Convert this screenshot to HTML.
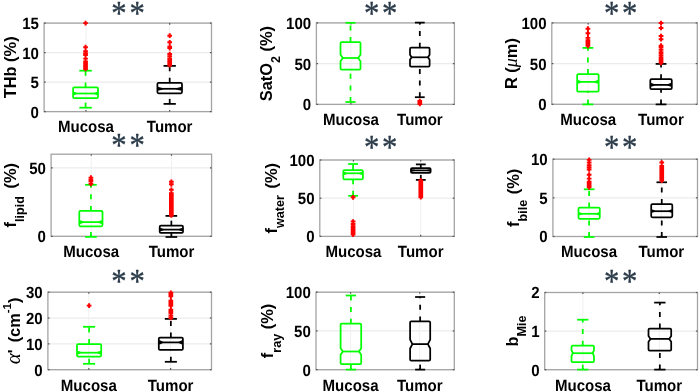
<!DOCTYPE html>
<html><head><meta charset="utf-8"><style>
html,body{margin:0;padding:0;background:#fff;}
svg{display:block;}
.t{font-family:"Liberation Sans",Arial,sans-serif;font-weight:bold;font-size:15.2px;fill:#000;text-rendering:geometricPrecision;}
.s{font-family:"Liberation Serif",serif;font-weight:normal;font-size:34.5px;fill:#2a3a48;stroke:#2a3a48;stroke-width:0.35px;letter-spacing:3.09px;}
</style></head><body>
<svg width="700" height="392" viewBox="0 0 700 392">
<rect width="700" height="392" fill="#fff"/>
<g>
<line x1="44.1" y1="111.6" x2="211.5" y2="111.6" stroke="#ebebeb" stroke-width="1.2"/>
<line x1="44.1" y1="82.1" x2="211.5" y2="82.1" stroke="#ebebeb" stroke-width="1.2"/>
<line x1="44.1" y1="52.6" x2="211.5" y2="52.6" stroke="#ebebeb" stroke-width="1.2"/>
<line x1="44.1" y1="23.1" x2="211.5" y2="23.1" stroke="#ebebeb" stroke-width="1.2"/>
<line x1="85.95" y1="23.1" x2="85.95" y2="111.6" stroke="#f0f0f0" stroke-width="1"/>
<line x1="169.65" y1="23.1" x2="169.65" y2="111.6" stroke="#f0f0f0" stroke-width="1"/>
<rect x="44.1" y="23.1" width="167.4" height="88.5" fill="none" stroke="#a4a4a4" stroke-width="1.3"/>
<line x1="44.1" y1="111.6" x2="45.7" y2="111.6" stroke="#555" stroke-width="1.2"/>
<line x1="211.5" y1="111.6" x2="209.9" y2="111.6" stroke="#555" stroke-width="1.2"/>
<line x1="44.1" y1="82.1" x2="45.7" y2="82.1" stroke="#555" stroke-width="1.2"/>
<line x1="211.5" y1="82.1" x2="209.9" y2="82.1" stroke="#555" stroke-width="1.2"/>
<line x1="44.1" y1="52.6" x2="45.7" y2="52.6" stroke="#555" stroke-width="1.2"/>
<line x1="211.5" y1="52.6" x2="209.9" y2="52.6" stroke="#555" stroke-width="1.2"/>
<line x1="44.1" y1="23.1" x2="45.7" y2="23.1" stroke="#555" stroke-width="1.2"/>
<line x1="211.5" y1="23.1" x2="209.9" y2="23.1" stroke="#555" stroke-width="1.2"/>
<line x1="85.95" y1="111.6" x2="85.95" y2="110" stroke="#555" stroke-width="1.2"/>
<line x1="85.95" y1="23.1" x2="85.95" y2="24.7" stroke="#555" stroke-width="1.2"/>
<line x1="169.65" y1="111.6" x2="169.65" y2="110" stroke="#555" stroke-width="1.2"/>
<line x1="169.65" y1="23.1" x2="169.65" y2="24.7" stroke="#555" stroke-width="1.2"/>
<line x1="85.55" y1="87.4" x2="85.55" y2="70.7" stroke="#00ff00" stroke-width="1.75" stroke-dasharray="5 6.6"/>
<line x1="85.55" y1="107.7" x2="85.55" y2="98.2" stroke="#00ff00" stroke-width="1.75" stroke-dasharray="5 6.6"/>
<line x1="79.33" y1="70.7" x2="91.77" y2="70.7" stroke="#00ff00" stroke-width="1.75"/>
<line x1="79.33" y1="107.7" x2="91.77" y2="107.7" stroke="#00ff00" stroke-width="1.75"/>
<path d="M74.3,87.4 L96.8,87.4 Q98,87.4 98,88.6 L98,97 Q98,98.2 96.8,98.2 L74.3,98.2 Q73.1,98.2 73.1,97 L73.1,88.6 Q73.1,87.4 74.3,87.4 Z M73.1,92.3 L76.6,93.5 L73.1,94.7 M98,92.3 L94.5,93.5 L98,94.7" fill="none" stroke="#00ff00" stroke-width="1.75" stroke-linejoin="round"/>
<line x1="76.6" y1="93.5" x2="94.5" y2="93.5" stroke="#00ff00" stroke-width="1.75"/>
<line x1="169.7" y1="82.85" x2="169.7" y2="65.9" stroke="#000000" stroke-width="1.75" stroke-dasharray="5 6.6"/>
<line x1="169.7" y1="103.9" x2="169.7" y2="93.3" stroke="#000000" stroke-width="1.75" stroke-dasharray="5 6.6"/>
<line x1="163.55" y1="65.9" x2="175.85" y2="65.9" stroke="#000000" stroke-width="1.75"/>
<line x1="163.55" y1="103.9" x2="175.85" y2="103.9" stroke="#000000" stroke-width="1.75"/>
<path d="M158.6,82.85 L180.8,82.85 Q182,82.85 182,84.05 L182,92.1 Q182,93.3 180.8,93.3 L158.6,93.3 Q157.4,93.3 157.4,92.1 L157.4,84.05 Q157.4,82.85 158.6,82.85 Z M157.4,87.7 L162.4,88.8 L157.4,89.9 M182,87.7 L177,88.8 L182,89.9" fill="none" stroke="#000000" stroke-width="1.75" stroke-linejoin="round"/>
<line x1="162.4" y1="88.8" x2="177" y2="88.8" stroke="#000000" stroke-width="1.75"/>
<path d="M85.55,20.75v4.7M85.55,44.85v4.7M85.55,48.75v4.7M85.55,50.95v4.7M85.55,52.75v4.7M85.55,56.25v4.7M85.55,59.15v4.7M85.55,60.95v4.7M85.55,62.65v4.7M85.55,63.65v4.7M85.55,64.65v4.7M85.55,65.65v4.7M85.55,66.65v4.7" stroke="#ff0000" stroke-width="2.0" fill="none"/><path d="M83.2,23.1h4.7M83.2,47.2h4.7M83.2,51.1h4.7M83.2,53.3h4.7M83.2,55.1h4.7M83.2,58.6h4.7M83.2,61.5h4.7M83.2,63.3h4.7M83.2,65h4.7M83.2,66h4.7M83.2,67h4.7M83.2,68h4.7M83.2,69h4.7" stroke="#ff0000" stroke-width="1.9" fill="none"/>
<path d="M169.7,33.35v4.7M169.7,39.95v4.7M169.7,44.35v4.7M169.7,45.75v4.7M169.7,51.65v4.7M169.7,53.95v4.7M169.7,56.25v4.7M169.7,58.05v4.7M169.7,59.95v4.7M169.7,61.35v4.7M169.7,62.85v4.7" stroke="#ff0000" stroke-width="2.0" fill="none"/><path d="M167.35,35.7h4.7M167.35,42.3h4.7M167.35,46.7h4.7M167.35,48.1h4.7M167.35,54h4.7M167.35,56.3h4.7M167.35,58.6h4.7M167.35,60.4h4.7M167.35,62.3h4.7M167.35,63.7h4.7M167.35,65.2h4.7" stroke="#ff0000" stroke-width="1.9" fill="none"/>
<text transform="translate(38.9,117.5) scale(0.99,1.07)" text-anchor="end" class="t">0</text>
<text transform="translate(38.9,88) scale(0.99,1.07)" text-anchor="end" class="t">5</text>
<text transform="translate(38.9,58.5) scale(0.99,1.07)" text-anchor="end" class="t">10</text>
<text transform="translate(38.9,29) scale(0.99,1.07)" text-anchor="end" class="t">15</text>
<text transform="translate(85.95,132.4) scale(0.99,1.07)" text-anchor="middle" class="t">Mucosa</text>
<text transform="translate(169.65,132.4) scale(0.99,1.07)" text-anchor="middle" class="t">Tumor</text>
<text transform="translate(15.5,67.35) rotate(-90)" text-anchor="middle" font-family="Liberation Sans, sans-serif" font-weight="bold" font-size="16.4" fill="#000"><tspan>THb (%)</tspan></text>
<text transform="translate(111.35,24) scale(0.89,1)" class="s">**</text>
</g>
<g>
<line x1="316.4" y1="104.4" x2="454.4" y2="104.4" stroke="#ebebeb" stroke-width="1.2"/>
<line x1="316.4" y1="63.65" x2="454.4" y2="63.65" stroke="#ebebeb" stroke-width="1.2"/>
<line x1="316.4" y1="22.9" x2="454.4" y2="22.9" stroke="#ebebeb" stroke-width="1.2"/>
<line x1="350.9" y1="22.9" x2="350.9" y2="104.4" stroke="#f0f0f0" stroke-width="1"/>
<line x1="419.9" y1="22.9" x2="419.9" y2="104.4" stroke="#f0f0f0" stroke-width="1"/>
<rect x="316.4" y="22.9" width="138" height="81.5" fill="none" stroke="#a4a4a4" stroke-width="1.3"/>
<line x1="316.4" y1="104.4" x2="318" y2="104.4" stroke="#555" stroke-width="1.2"/>
<line x1="454.4" y1="104.4" x2="452.8" y2="104.4" stroke="#555" stroke-width="1.2"/>
<line x1="316.4" y1="63.65" x2="318" y2="63.65" stroke="#555" stroke-width="1.2"/>
<line x1="454.4" y1="63.65" x2="452.8" y2="63.65" stroke="#555" stroke-width="1.2"/>
<line x1="316.4" y1="22.9" x2="318" y2="22.9" stroke="#555" stroke-width="1.2"/>
<line x1="454.4" y1="22.9" x2="452.8" y2="22.9" stroke="#555" stroke-width="1.2"/>
<line x1="350.9" y1="104.4" x2="350.9" y2="102.8" stroke="#555" stroke-width="1.2"/>
<line x1="350.9" y1="22.9" x2="350.9" y2="24.5" stroke="#555" stroke-width="1.2"/>
<line x1="419.9" y1="104.4" x2="419.9" y2="102.8" stroke="#555" stroke-width="1.2"/>
<line x1="419.9" y1="22.9" x2="419.9" y2="24.5" stroke="#555" stroke-width="1.2"/>
<line x1="350.5" y1="42.1" x2="350.5" y2="22.8" stroke="#00ff00" stroke-width="1.75" stroke-dasharray="5 6.6"/>
<line x1="350.5" y1="102" x2="350.5" y2="69.7" stroke="#00ff00" stroke-width="1.75" stroke-dasharray="5 6.6"/>
<line x1="345.5" y1="22.8" x2="355.5" y2="22.8" stroke="#00ff00" stroke-width="1.75"/>
<line x1="345.5" y1="102" x2="355.5" y2="102" stroke="#00ff00" stroke-width="1.75"/>
<path d="M341.7,42.1 L359.3,42.1 Q360.5,42.1 360.5,43.3 L360.5,54.7 L358.2,58 L360.5,61.3 L360.5,68.5 Q360.5,69.7 359.3,69.7 L341.7,69.7 Q340.5,69.7 340.5,68.5 L340.5,61.3 L342.8,58 L340.5,54.7 L340.5,43.3 Q340.5,42.1 341.7,42.1 Z" fill="none" stroke="#00ff00" stroke-width="1.75" stroke-linejoin="round"/>
<line x1="342.8" y1="58" x2="358.2" y2="58" stroke="#00ff00" stroke-width="1.75"/>
<line x1="419.8" y1="47.7" x2="419.8" y2="22.6" stroke="#000000" stroke-width="1.75" stroke-dasharray="5 6.6"/>
<line x1="419.8" y1="97.2" x2="419.8" y2="66.6" stroke="#000000" stroke-width="1.75" stroke-dasharray="5 6.6"/>
<line x1="414.9" y1="22.6" x2="424.7" y2="22.6" stroke="#000000" stroke-width="1.75"/>
<line x1="414.9" y1="97.2" x2="424.7" y2="97.2" stroke="#000000" stroke-width="1.75"/>
<path d="M411.2,47.7 L428.4,47.7 Q429.6,47.7 429.6,48.9 L429.6,54.8 L428,57.3 L429.6,59.8 L429.6,65.4 Q429.6,66.6 428.4,66.6 L411.2,66.6 Q410,66.6 410,65.4 L410,59.8 L411.6,57.3 L410,54.8 L410,48.9 Q410,47.7 411.2,47.7 Z" fill="none" stroke="#000000" stroke-width="1.75" stroke-linejoin="round"/>
<line x1="411.6" y1="57.3" x2="428" y2="57.3" stroke="#000000" stroke-width="1.75"/>

<path d="M419.8,98.65v4.7M419.8,100.25v4.7M419.8,101.65v4.7" stroke="#ff0000" stroke-width="2.0" fill="none"/><path d="M417.45,101h4.7M417.45,102.6h4.7M417.45,104h4.7" stroke="#ff0000" stroke-width="1.9" fill="none"/>
<text transform="translate(311.2,110.3) scale(0.99,1.07)" text-anchor="end" class="t">0</text>
<text transform="translate(311.2,69.55) scale(0.99,1.07)" text-anchor="end" class="t">50</text>
<text transform="translate(311.2,28.8) scale(0.99,1.07)" text-anchor="end" class="t">100</text>
<text transform="translate(350.9,125.2) scale(0.99,1.07)" text-anchor="middle" class="t">Mucosa</text>
<text transform="translate(419.9,125.2) scale(0.99,1.07)" text-anchor="middle" class="t">Tumor</text>
<text transform="translate(272.2,63.65) rotate(-90)" text-anchor="middle" font-family="Liberation Sans, sans-serif" font-weight="bold" font-size="16.4" fill="#000"><tspan>SatO</tspan><tspan dy="7.8" font-size="12.6">2</tspan><tspan dy="-7.8"> (%)</tspan></text>
<text transform="translate(363.9,23.8) scale(0.89,1)" class="s">**</text>
</g>
<g>
<line x1="551.8" y1="104.3" x2="697.3" y2="104.3" stroke="#ebebeb" stroke-width="1.2"/>
<line x1="551.8" y1="63.6" x2="697.3" y2="63.6" stroke="#ebebeb" stroke-width="1.2"/>
<line x1="551.8" y1="22.9" x2="697.3" y2="22.9" stroke="#ebebeb" stroke-width="1.2"/>
<line x1="588.17" y1="22.9" x2="588.17" y2="104.3" stroke="#f0f0f0" stroke-width="1"/>
<line x1="660.92" y1="22.9" x2="660.92" y2="104.3" stroke="#f0f0f0" stroke-width="1"/>
<rect x="551.8" y="22.9" width="145.5" height="81.4" fill="none" stroke="#a4a4a4" stroke-width="1.3"/>
<line x1="551.8" y1="104.3" x2="553.4" y2="104.3" stroke="#555" stroke-width="1.2"/>
<line x1="697.3" y1="104.3" x2="695.7" y2="104.3" stroke="#555" stroke-width="1.2"/>
<line x1="551.8" y1="63.6" x2="553.4" y2="63.6" stroke="#555" stroke-width="1.2"/>
<line x1="697.3" y1="63.6" x2="695.7" y2="63.6" stroke="#555" stroke-width="1.2"/>
<line x1="551.8" y1="22.9" x2="553.4" y2="22.9" stroke="#555" stroke-width="1.2"/>
<line x1="697.3" y1="22.9" x2="695.7" y2="22.9" stroke="#555" stroke-width="1.2"/>
<line x1="588.17" y1="104.3" x2="588.17" y2="102.7" stroke="#555" stroke-width="1.2"/>
<line x1="588.17" y1="22.9" x2="588.17" y2="24.5" stroke="#555" stroke-width="1.2"/>
<line x1="660.92" y1="104.3" x2="660.92" y2="102.7" stroke="#555" stroke-width="1.2"/>
<line x1="660.92" y1="22.9" x2="660.92" y2="24.5" stroke="#555" stroke-width="1.2"/>
<line x1="587.9" y1="74" x2="587.9" y2="47.9" stroke="#00ff00" stroke-width="1.75" stroke-dasharray="5 6.6"/>
<line x1="587.9" y1="104.4" x2="587.9" y2="91.7" stroke="#00ff00" stroke-width="1.75" stroke-dasharray="5 6.6"/>
<line x1="582.52" y1="47.9" x2="593.27" y2="47.9" stroke="#00ff00" stroke-width="1.75"/>
<line x1="582.52" y1="104.4" x2="593.27" y2="104.4" stroke="#00ff00" stroke-width="1.75"/>
<path d="M578.35,74 L597.45,74 Q598.65,74 598.65,75.2 L598.65,90.5 Q598.65,91.7 597.45,91.7 L578.35,91.7 Q577.15,91.7 577.15,90.5 L577.15,75.2 Q577.15,74 578.35,74 Z M577.15,80.6 L580.65,81.9 L577.15,83.2 M598.65,80.6 L595.15,81.9 L598.65,83.2" fill="none" stroke="#00ff00" stroke-width="1.75" stroke-linejoin="round"/>
<line x1="580.65" y1="81.9" x2="595.15" y2="81.9" stroke="#00ff00" stroke-width="1.75"/>
<line x1="661.05" y1="79.2" x2="661.05" y2="63.9" stroke="#000000" stroke-width="1.75" stroke-dasharray="5 6.6"/>
<line x1="661.05" y1="104.4" x2="661.05" y2="89.1" stroke="#000000" stroke-width="1.75" stroke-dasharray="5 6.6"/>
<line x1="655.67" y1="63.9" x2="666.42" y2="63.9" stroke="#000000" stroke-width="1.75"/>
<line x1="655.67" y1="104.4" x2="666.42" y2="104.4" stroke="#000000" stroke-width="1.75"/>
<path d="M651.5,79.2 L670.6,79.2 Q671.8,79.2 671.8,80.4 L671.8,87.9 Q671.8,89.1 670.6,89.1 L651.5,89.1 Q650.3,89.1 650.3,87.9 L650.3,80.4 Q650.3,79.2 651.5,79.2 Z M650.3,83.6 L653.8,84.9 L650.3,86.2 M671.8,83.6 L668.3,84.9 L671.8,86.2" fill="none" stroke="#000000" stroke-width="1.75" stroke-linejoin="round"/>
<line x1="653.8" y1="84.9" x2="668.3" y2="84.9" stroke="#000000" stroke-width="1.75"/>
<path d="M587.9,26.35v4.7M587.9,30.95v4.7M587.9,35.55v4.7M587.9,37.95v4.7M587.9,39.85v4.7M587.9,41.65v4.7M587.9,43.45v4.7" stroke="#ff0000" stroke-width="2.0" fill="none"/><path d="M585.55,28.7h4.7M585.55,33.3h4.7M585.55,37.9h4.7M585.55,40.3h4.7M585.55,42.2h4.7M585.55,44h4.7M585.55,45.8h4.7" stroke="#ff0000" stroke-width="1.9" fill="none"/>
<path d="M661.05,20.65v4.7M661.05,25.65v4.7M661.05,33.65v4.7M661.05,36.85v4.7M661.05,43.25v4.7M661.05,44.95v4.7M661.05,47.45v4.7M661.05,49.95v4.7M661.05,51.25v4.7M661.05,53.25v4.7M661.05,55.25v4.7M661.05,56.85v4.7M661.05,58.85v4.7M661.05,60.45v4.7" stroke="#ff0000" stroke-width="2.0" fill="none"/><path d="M658.7,23h4.7M658.7,28h4.7M658.7,36h4.7M658.7,39.2h4.7M658.7,45.6h4.7M658.7,47.3h4.7M658.7,49.8h4.7M658.7,52.3h4.7M658.7,53.6h4.7M658.7,55.6h4.7M658.7,57.6h4.7M658.7,59.2h4.7M658.7,61.2h4.7M658.7,62.8h4.7" stroke="#ff0000" stroke-width="1.9" fill="none"/>
<text transform="translate(546.6,110.2) scale(0.99,1.07)" text-anchor="end" class="t">0</text>
<text transform="translate(546.6,69.5) scale(0.99,1.07)" text-anchor="end" class="t">50</text>
<text transform="translate(546.6,28.8) scale(0.99,1.07)" text-anchor="end" class="t">100</text>
<text transform="translate(588.17,125.1) scale(0.99,1.07)" text-anchor="middle" class="t">Mucosa</text>
<text transform="translate(660.92,125.1) scale(0.99,1.07)" text-anchor="middle" class="t">Tumor</text>
<text transform="translate(516.6,63.6) rotate(-90)" text-anchor="middle" font-family="Liberation Sans, sans-serif" font-weight="bold" font-size="16.4" fill="#000"><tspan>R (</tspan><tspan font-family="Liberation Serif, serif" font-style="italic" font-weight="normal" font-size="18">μ</tspan><tspan>m)</tspan></text>
<text transform="translate(604,23.8) scale(0.89,1)" class="s">**</text>
</g>
<g>
<line x1="51.1" y1="236.3" x2="211.6" y2="236.3" stroke="#ebebeb" stroke-width="1.2"/>
<line x1="51.1" y1="167.88" x2="211.6" y2="167.88" stroke="#ebebeb" stroke-width="1.2"/>
<line x1="91.22" y1="154.2" x2="91.22" y2="236.3" stroke="#f0f0f0" stroke-width="1"/>
<line x1="171.47" y1="154.2" x2="171.47" y2="236.3" stroke="#f0f0f0" stroke-width="1"/>
<rect x="51.1" y="154.2" width="160.5" height="82.1" fill="none" stroke="#a4a4a4" stroke-width="1.3"/>
<line x1="51.1" y1="236.3" x2="52.7" y2="236.3" stroke="#555" stroke-width="1.2"/>
<line x1="211.6" y1="236.3" x2="210" y2="236.3" stroke="#555" stroke-width="1.2"/>
<line x1="51.1" y1="167.88" x2="52.7" y2="167.88" stroke="#555" stroke-width="1.2"/>
<line x1="211.6" y1="167.88" x2="210" y2="167.88" stroke="#555" stroke-width="1.2"/>
<line x1="91.22" y1="236.3" x2="91.22" y2="234.7" stroke="#555" stroke-width="1.2"/>
<line x1="91.22" y1="154.2" x2="91.22" y2="155.8" stroke="#555" stroke-width="1.2"/>
<line x1="171.47" y1="236.3" x2="171.47" y2="234.7" stroke="#555" stroke-width="1.2"/>
<line x1="171.47" y1="154.2" x2="171.47" y2="155.8" stroke="#555" stroke-width="1.2"/>
<line x1="90.9" y1="210.9" x2="90.9" y2="184.8" stroke="#00ff00" stroke-width="1.75" stroke-dasharray="5 6.6"/>
<line x1="90.9" y1="236.9" x2="90.9" y2="226.3" stroke="#00ff00" stroke-width="1.75" stroke-dasharray="5 6.6"/>
<line x1="85.1" y1="184.8" x2="96.7" y2="184.8" stroke="#00ff00" stroke-width="1.75"/>
<line x1="85.1" y1="236.9" x2="96.7" y2="236.9" stroke="#00ff00" stroke-width="1.75"/>
<path d="M80.5,210.9 L101.3,210.9 Q102.5,210.9 102.5,212.1 L102.5,225.1 Q102.5,226.3 101.3,226.3 L80.5,226.3 Q79.3,226.3 79.3,225.1 L79.3,212.1 Q79.3,210.9 80.5,210.9 Z M79.3,220.9 L82.8,222.1 L79.3,223.3 M102.5,220.9 L99,222.1 L102.5,223.3" fill="none" stroke="#00ff00" stroke-width="1.75" stroke-linejoin="round"/>
<line x1="82.8" y1="222.1" x2="99" y2="222.1" stroke="#00ff00" stroke-width="1.75"/>
<line x1="171.35" y1="225.7" x2="171.35" y2="215.9" stroke="#000000" stroke-width="1.75" stroke-dasharray="5 6.6"/>
<line x1="171.35" y1="237" x2="171.35" y2="232.9" stroke="#000000" stroke-width="1.75" stroke-dasharray="5 6.6"/>
<line x1="165.53" y1="215.9" x2="177.17" y2="215.9" stroke="#000000" stroke-width="1.75"/>
<line x1="165.53" y1="237" x2="177.17" y2="237" stroke="#000000" stroke-width="1.75"/>
<path d="M160.9,225.7 L181.8,225.7 Q183,225.7 183,226.9 L183,231.7 Q183,232.9 181.8,232.9 L160.9,232.9 Q159.7,232.9 159.7,231.7 L159.7,226.9 Q159.7,225.7 160.9,225.7 Z M159.7,228.6 L163.2,229.6 L159.7,230.6 M183,228.6 L179.5,229.6 L183,230.6" fill="none" stroke="#000000" stroke-width="1.75" stroke-linejoin="round"/>
<line x1="163.2" y1="229.6" x2="179.5" y2="229.6" stroke="#000000" stroke-width="1.75"/>
<path d="M90.9,175.25v4.7M90.9,177.25v4.7M90.9,178.85v4.7M90.9,181.45v4.7" stroke="#ff0000" stroke-width="2.0" fill="none"/><path d="M88.55,177.6h4.7M88.55,179.6h4.7M88.55,181.2h4.7M88.55,183.8h4.7" stroke="#ff0000" stroke-width="1.9" fill="none"/>
<path d="M171.35,179.45v4.7M171.35,181.95v4.7M171.35,187.45v4.7M171.35,190.85v4.7M171.35,192.15v4.7M171.35,193.15v4.7M171.35,194.15v4.7M171.35,195.15v4.7M171.35,196.15v4.7M171.35,197.15v4.7M171.35,198.15v4.7M171.35,199.15v4.7M171.35,200.15v4.7M171.35,201.15v4.7M171.35,202.15v4.7M171.35,203.15v4.7M171.35,204.15v4.7M171.35,205.15v4.7M171.35,206.15v4.7M171.35,207.15v4.7M171.35,208.15v4.7M171.35,209.15v4.7M171.35,210.15v4.7M171.35,211.15v4.7M171.35,212.15v4.7M171.35,213.15v4.7" stroke="#ff0000" stroke-width="2.0" fill="none"/><path d="M169,181.8h4.7M169,184.3h4.7M169,189.8h4.7M169,193.2h4.7M169,194.5h4.7M169,195.5h4.7M169,196.5h4.7M169,197.5h4.7M169,198.5h4.7M169,199.5h4.7M169,200.5h4.7M169,201.5h4.7M169,202.5h4.7M169,203.5h4.7M169,204.5h4.7M169,205.5h4.7M169,206.5h4.7M169,207.5h4.7M169,208.5h4.7M169,209.5h4.7M169,210.5h4.7M169,211.5h4.7M169,212.5h4.7M169,213.5h4.7M169,214.5h4.7M169,215.5h4.7" stroke="#ff0000" stroke-width="1.9" fill="none"/>
<text transform="translate(45.9,242.2) scale(0.99,1.07)" text-anchor="end" class="t">0</text>
<text transform="translate(45.9,173.78) scale(0.99,1.07)" text-anchor="end" class="t">50</text>
<text transform="translate(91.22,257.1) scale(0.99,1.07)" text-anchor="middle" class="t">Mucosa</text>
<text transform="translate(171.47,257.1) scale(0.99,1.07)" text-anchor="middle" class="t">Tumor</text>
<text transform="translate(15.8,195.25) rotate(-90)" text-anchor="middle" font-family="Liberation Sans, sans-serif" font-weight="bold" font-size="16.4" fill="#000"><tspan>f</tspan><tspan dy="7.8" font-size="12.6">lipid</tspan><tspan dy="-7.8" dx="3"> (%)</tspan></text>
<text transform="translate(111.35,155.8) scale(0.89,1)" class="s">**</text>
</g>
<g>
<line x1="319.8" y1="236.4" x2="454.3" y2="236.4" stroke="#ebebeb" stroke-width="1.2"/>
<line x1="319.8" y1="198.2" x2="454.3" y2="198.2" stroke="#ebebeb" stroke-width="1.2"/>
<line x1="319.8" y1="160" x2="454.3" y2="160" stroke="#ebebeb" stroke-width="1.2"/>
<line x1="353.43" y1="160" x2="353.43" y2="236.4" stroke="#f0f0f0" stroke-width="1"/>
<line x1="420.68" y1="160" x2="420.68" y2="236.4" stroke="#f0f0f0" stroke-width="1"/>
<rect x="319.8" y="160" width="134.5" height="76.4" fill="none" stroke="#a4a4a4" stroke-width="1.3"/>
<line x1="319.8" y1="236.4" x2="321.4" y2="236.4" stroke="#555" stroke-width="1.2"/>
<line x1="454.3" y1="236.4" x2="452.7" y2="236.4" stroke="#555" stroke-width="1.2"/>
<line x1="319.8" y1="198.2" x2="321.4" y2="198.2" stroke="#555" stroke-width="1.2"/>
<line x1="454.3" y1="198.2" x2="452.7" y2="198.2" stroke="#555" stroke-width="1.2"/>
<line x1="319.8" y1="160" x2="321.4" y2="160" stroke="#555" stroke-width="1.2"/>
<line x1="454.3" y1="160" x2="452.7" y2="160" stroke="#555" stroke-width="1.2"/>
<line x1="353.43" y1="236.4" x2="353.43" y2="234.8" stroke="#555" stroke-width="1.2"/>
<line x1="353.43" y1="160" x2="353.43" y2="161.6" stroke="#555" stroke-width="1.2"/>
<line x1="420.68" y1="236.4" x2="420.68" y2="234.8" stroke="#555" stroke-width="1.2"/>
<line x1="420.68" y1="160" x2="420.68" y2="161.6" stroke="#555" stroke-width="1.2"/>
<line x1="353.1" y1="170.1" x2="353.1" y2="164" stroke="#00ff00" stroke-width="1.75" stroke-dasharray="5 6.6"/>
<line x1="353.1" y1="195.8" x2="353.1" y2="179.4" stroke="#00ff00" stroke-width="1.75" stroke-dasharray="5 6.6"/>
<line x1="348.2" y1="164" x2="358" y2="164" stroke="#00ff00" stroke-width="1.75"/>
<line x1="348.2" y1="195.8" x2="358" y2="195.8" stroke="#00ff00" stroke-width="1.75"/>
<path d="M344.5,170.1 L361.7,170.1 Q362.9,170.1 362.9,171.3 L362.9,178.2 Q362.9,179.4 361.7,179.4 L344.5,179.4 Q343.3,179.4 343.3,178.2 L343.3,171.3 Q343.3,170.1 344.5,170.1 Z M343.3,172.3 L346.3,173.3 L343.3,174.3 M362.9,172.3 L359.9,173.3 L362.9,174.3" fill="none" stroke="#00ff00" stroke-width="1.75" stroke-linejoin="round"/>
<line x1="346.3" y1="173.3" x2="359.9" y2="173.3" stroke="#00ff00" stroke-width="1.75"/>
<line x1="420.8" y1="168" x2="420.8" y2="164.4" stroke="#000000" stroke-width="1.75" stroke-dasharray="5 6.6"/>
<line x1="420.8" y1="179.9" x2="420.8" y2="172.9" stroke="#000000" stroke-width="1.75" stroke-dasharray="5 6.6"/>
<line x1="415.88" y1="164.4" x2="425.73" y2="164.4" stroke="#000000" stroke-width="1.75"/>
<line x1="415.88" y1="179.9" x2="425.73" y2="179.9" stroke="#000000" stroke-width="1.75"/>
<path d="M412.15,168 L429.45,168 Q430.65,168 430.65,169.2 L430.65,171.7 Q430.65,172.9 429.45,172.9 L412.15,172.9 Q410.95,172.9 410.95,171.7 L410.95,169.2 Q410.95,168 412.15,168 Z M410.95,169.7 L413.95,170.4 L410.95,171.1 M430.65,169.7 L427.65,170.4 L430.65,171.1" fill="none" stroke="#000000" stroke-width="1.75" stroke-linejoin="round"/>
<line x1="413.95" y1="170.4" x2="427.65" y2="170.4" stroke="#000000" stroke-width="1.75"/>
<path d="M353.1,194.95v4.7M353.1,219.15v4.7M353.1,221.65v4.7M353.1,223.95v4.7M353.1,225.25v4.7M353.1,226.25v4.7M353.1,227.25v4.7M353.1,228.25v4.7M353.1,229.25v4.7M353.1,230.25v4.7M353.1,231.25v4.7M353.1,232.25v4.7" stroke="#ff0000" stroke-width="2.0" fill="none"/><path d="M350.75,197.3h4.7M350.75,221.5h4.7M350.75,224h4.7M350.75,226.3h4.7M350.75,227.6h4.7M350.75,228.6h4.7M350.75,229.6h4.7M350.75,230.6h4.7M350.75,231.6h4.7M350.75,232.6h4.7M350.75,233.6h4.7M350.75,234.6h4.7" stroke="#ff0000" stroke-width="1.9" fill="none"/>
<path d="M420.8,178.05v4.7M420.8,179.05v4.7M420.8,180.05v4.7M420.8,181.05v4.7M420.8,182.05v4.7M420.8,183.05v4.7M420.8,184.05v4.7M420.8,185.05v4.7M420.8,186.05v4.7M420.8,187.05v4.7M420.8,188.95v4.7M420.8,190.85v4.7M420.8,191.85v4.7M420.8,192.85v4.7M420.8,193.85v4.7M420.8,194.85v4.7" stroke="#ff0000" stroke-width="2.0" fill="none"/><path d="M418.45,180.4h4.7M418.45,181.4h4.7M418.45,182.4h4.7M418.45,183.4h4.7M418.45,184.4h4.7M418.45,185.4h4.7M418.45,186.4h4.7M418.45,187.4h4.7M418.45,188.4h4.7M418.45,189.4h4.7M418.45,191.3h4.7M418.45,193.2h4.7M418.45,194.2h4.7M418.45,195.2h4.7M418.45,196.2h4.7M418.45,197.2h4.7" stroke="#ff0000" stroke-width="1.9" fill="none"/>
<text transform="translate(314.6,242.3) scale(0.99,1.07)" text-anchor="end" class="t">0</text>
<text transform="translate(314.6,204.1) scale(0.99,1.07)" text-anchor="end" class="t">50</text>
<text transform="translate(314.6,165.9) scale(0.99,1.07)" text-anchor="end" class="t">100</text>
<text transform="translate(353.43,257.2) scale(0.99,1.07)" text-anchor="middle" class="t">Mucosa</text>
<text transform="translate(420.68,257.2) scale(0.99,1.07)" text-anchor="middle" class="t">Tumor</text>
<text transform="translate(276.6,198.2) rotate(-90)" text-anchor="middle" font-family="Liberation Sans, sans-serif" font-weight="bold" font-size="16.4" fill="#000"><tspan>f</tspan><tspan dy="7.8" font-size="12.6">water</tspan><tspan dy="-7.8" dx="2"> (%)</tspan></text>
<text transform="translate(364,157.6) scale(0.89,1)" class="s">**</text>
</g>
<g>
<line x1="552.9" y1="236.5" x2="697.5" y2="236.5" stroke="#ebebeb" stroke-width="1.2"/>
<line x1="552.9" y1="197.85" x2="697.5" y2="197.85" stroke="#ebebeb" stroke-width="1.2"/>
<line x1="552.9" y1="159.2" x2="697.5" y2="159.2" stroke="#ebebeb" stroke-width="1.2"/>
<line x1="589.05" y1="159.2" x2="589.05" y2="236.5" stroke="#f0f0f0" stroke-width="1"/>
<line x1="661.35" y1="159.2" x2="661.35" y2="236.5" stroke="#f0f0f0" stroke-width="1"/>
<rect x="552.9" y="159.2" width="144.6" height="77.3" fill="none" stroke="#a4a4a4" stroke-width="1.3"/>
<line x1="552.9" y1="236.5" x2="554.5" y2="236.5" stroke="#555" stroke-width="1.2"/>
<line x1="697.5" y1="236.5" x2="695.9" y2="236.5" stroke="#555" stroke-width="1.2"/>
<line x1="552.9" y1="197.85" x2="554.5" y2="197.85" stroke="#555" stroke-width="1.2"/>
<line x1="697.5" y1="197.85" x2="695.9" y2="197.85" stroke="#555" stroke-width="1.2"/>
<line x1="552.9" y1="159.2" x2="554.5" y2="159.2" stroke="#555" stroke-width="1.2"/>
<line x1="697.5" y1="159.2" x2="695.9" y2="159.2" stroke="#555" stroke-width="1.2"/>
<line x1="589.05" y1="236.5" x2="589.05" y2="234.9" stroke="#555" stroke-width="1.2"/>
<line x1="589.05" y1="159.2" x2="589.05" y2="160.8" stroke="#555" stroke-width="1.2"/>
<line x1="661.35" y1="236.5" x2="661.35" y2="234.9" stroke="#555" stroke-width="1.2"/>
<line x1="661.35" y1="159.2" x2="661.35" y2="160.8" stroke="#555" stroke-width="1.2"/>
<line x1="589.15" y1="207.6" x2="589.15" y2="189.3" stroke="#00ff00" stroke-width="1.75" stroke-dasharray="5 6.6"/>
<line x1="589.15" y1="237" x2="589.15" y2="218.8" stroke="#00ff00" stroke-width="1.75" stroke-dasharray="5 6.6"/>
<line x1="583.82" y1="189.3" x2="594.48" y2="189.3" stroke="#00ff00" stroke-width="1.75"/>
<line x1="583.82" y1="237" x2="594.48" y2="237" stroke="#00ff00" stroke-width="1.75"/>
<path d="M579.7,207.6 L598.6,207.6 Q599.8,207.6 599.8,208.8 L599.8,217.6 Q599.8,218.8 598.6,218.8 L579.7,218.8 Q578.5,218.8 578.5,217.6 L578.5,208.8 Q578.5,207.6 579.7,207.6 Z M578.5,212.9 L581.5,213.8 L578.5,214.7 M599.8,212.9 L596.8,213.8 L599.8,214.7" fill="none" stroke="#00ff00" stroke-width="1.75" stroke-linejoin="round"/>
<line x1="581.5" y1="213.8" x2="596.8" y2="213.8" stroke="#00ff00" stroke-width="1.75"/>
<line x1="661.75" y1="204.1" x2="661.75" y2="182.3" stroke="#000000" stroke-width="1.75" stroke-dasharray="5 6.6"/>
<line x1="661.75" y1="237" x2="661.75" y2="217.3" stroke="#000000" stroke-width="1.75" stroke-dasharray="5 6.6"/>
<line x1="656.48" y1="182.3" x2="667.02" y2="182.3" stroke="#000000" stroke-width="1.75"/>
<line x1="656.48" y1="237" x2="667.02" y2="237" stroke="#000000" stroke-width="1.75"/>
<path d="M652.4,204.1 L671.1,204.1 Q672.3,204.1 672.3,205.3 L672.3,216.1 Q672.3,217.3 671.1,217.3 L652.4,217.3 Q651.2,217.3 651.2,216.1 L651.2,205.3 Q651.2,204.1 652.4,204.1 Z M651.2,210.2 L654.2,211.2 L651.2,212.2 M672.3,210.2 L669.3,211.2 L672.3,212.2" fill="none" stroke="#000000" stroke-width="1.75" stroke-linejoin="round"/>
<line x1="654.2" y1="211.2" x2="669.3" y2="211.2" stroke="#000000" stroke-width="1.75"/>
<path d="M589.15,157.55v4.7M589.15,160.15v4.7M589.15,162.75v4.7M589.15,164.95v4.7M589.15,167.15v4.7M589.15,172.35v4.7M589.15,176.25v4.7M589.15,179.35v4.7M589.15,181.45v4.7M589.15,183.25v4.7M589.15,184.95v4.7" stroke="#ff0000" stroke-width="2.0" fill="none"/><path d="M586.8,159.9h4.7M586.8,162.5h4.7M586.8,165.1h4.7M586.8,167.3h4.7M586.8,169.5h4.7M586.8,174.7h4.7M586.8,178.6h4.7M586.8,181.7h4.7M586.8,183.8h4.7M586.8,185.6h4.7M586.8,187.3h4.7" stroke="#ff0000" stroke-width="1.9" fill="none"/>
<path d="M661.75,160.15v4.7M661.75,163.65v4.7M661.75,165.15v4.7M661.75,166.65v4.7M661.75,168.15v4.7M661.75,169.75v4.7M661.75,171.25v4.7M661.75,173.15v4.7M661.75,174.65v4.7M661.75,176.65v4.7M661.75,178.25v4.7" stroke="#ff0000" stroke-width="2.0" fill="none"/><path d="M659.4,162.5h4.7M659.4,166h4.7M659.4,167.5h4.7M659.4,169h4.7M659.4,170.5h4.7M659.4,172.1h4.7M659.4,173.6h4.7M659.4,175.5h4.7M659.4,177h4.7M659.4,179h4.7M659.4,180.6h4.7" stroke="#ff0000" stroke-width="1.9" fill="none"/>
<text transform="translate(547.7,242.4) scale(0.99,1.07)" text-anchor="end" class="t">0</text>
<text transform="translate(547.7,203.75) scale(0.99,1.07)" text-anchor="end" class="t">5</text>
<text transform="translate(547.7,165.1) scale(0.99,1.07)" text-anchor="end" class="t">10</text>
<text transform="translate(589.05,257.3) scale(0.99,1.07)" text-anchor="middle" class="t">Mucosa</text>
<text transform="translate(661.35,257.3) scale(0.99,1.07)" text-anchor="middle" class="t">Tumor</text>
<text transform="translate(519,197.85) rotate(-90)" text-anchor="middle" font-family="Liberation Sans, sans-serif" font-weight="bold" font-size="16.4" fill="#000"><tspan>f</tspan><tspan dy="7.8" font-size="12.6">bile</tspan><tspan dy="-7.8" dx="1"> (%)</tspan></text>
<text transform="translate(604,157.6) scale(0.89,1)" class="s">**</text>
</g>
<g>
<line x1="47.9" y1="369.7" x2="211.5" y2="369.7" stroke="#ebebeb" stroke-width="1.2"/>
<line x1="47.9" y1="343.87" x2="211.5" y2="343.87" stroke="#ebebeb" stroke-width="1.2"/>
<line x1="47.9" y1="318.03" x2="211.5" y2="318.03" stroke="#ebebeb" stroke-width="1.2"/>
<line x1="47.9" y1="292.2" x2="211.5" y2="292.2" stroke="#ebebeb" stroke-width="1.2"/>
<line x1="88.8" y1="292.2" x2="88.8" y2="369.7" stroke="#f0f0f0" stroke-width="1"/>
<line x1="170.6" y1="292.2" x2="170.6" y2="369.7" stroke="#f0f0f0" stroke-width="1"/>
<rect x="47.9" y="292.2" width="163.6" height="77.5" fill="none" stroke="#a4a4a4" stroke-width="1.3"/>
<line x1="47.9" y1="369.7" x2="49.5" y2="369.7" stroke="#555" stroke-width="1.2"/>
<line x1="211.5" y1="369.7" x2="209.9" y2="369.7" stroke="#555" stroke-width="1.2"/>
<line x1="47.9" y1="343.87" x2="49.5" y2="343.87" stroke="#555" stroke-width="1.2"/>
<line x1="211.5" y1="343.87" x2="209.9" y2="343.87" stroke="#555" stroke-width="1.2"/>
<line x1="47.9" y1="318.03" x2="49.5" y2="318.03" stroke="#555" stroke-width="1.2"/>
<line x1="211.5" y1="318.03" x2="209.9" y2="318.03" stroke="#555" stroke-width="1.2"/>
<line x1="47.9" y1="292.2" x2="49.5" y2="292.2" stroke="#555" stroke-width="1.2"/>
<line x1="211.5" y1="292.2" x2="209.9" y2="292.2" stroke="#555" stroke-width="1.2"/>
<line x1="88.8" y1="369.7" x2="88.8" y2="368.1" stroke="#555" stroke-width="1.2"/>
<line x1="88.8" y1="292.2" x2="88.8" y2="293.8" stroke="#555" stroke-width="1.2"/>
<line x1="170.6" y1="369.7" x2="170.6" y2="368.1" stroke="#555" stroke-width="1.2"/>
<line x1="170.6" y1="292.2" x2="170.6" y2="293.8" stroke="#555" stroke-width="1.2"/>
<line x1="89.1" y1="344.1" x2="89.1" y2="326.8" stroke="#00ff00" stroke-width="1.75" stroke-dasharray="5 6.6"/>
<line x1="89.1" y1="363.8" x2="89.1" y2="356.5" stroke="#00ff00" stroke-width="1.75" stroke-dasharray="5 6.6"/>
<line x1="83.05" y1="326.8" x2="95.15" y2="326.8" stroke="#00ff00" stroke-width="1.75"/>
<line x1="83.05" y1="363.8" x2="95.15" y2="363.8" stroke="#00ff00" stroke-width="1.75"/>
<path d="M78.2,344.1 L100,344.1 Q101.2,344.1 101.2,345.3 L101.2,355.3 Q101.2,356.5 100,356.5 L78.2,356.5 Q77,356.5 77,355.3 L77,345.3 Q77,344.1 78.2,344.1 Z M77,351.5 L80.5,352.7 L77,353.9 M101.2,351.5 L97.7,352.7 L101.2,353.9" fill="none" stroke="#00ff00" stroke-width="1.75" stroke-linejoin="round"/>
<line x1="80.5" y1="352.7" x2="97.7" y2="352.7" stroke="#00ff00" stroke-width="1.75"/>
<line x1="170.85" y1="337.6" x2="170.85" y2="318.9" stroke="#000000" stroke-width="1.75" stroke-dasharray="5 6.6"/>
<line x1="170.85" y1="361.8" x2="170.85" y2="349.9" stroke="#000000" stroke-width="1.75" stroke-dasharray="5 6.6"/>
<line x1="164.82" y1="318.9" x2="176.88" y2="318.9" stroke="#000000" stroke-width="1.75"/>
<line x1="164.82" y1="361.8" x2="176.88" y2="361.8" stroke="#000000" stroke-width="1.75"/>
<path d="M160,337.6 L181.7,337.6 Q182.9,337.6 182.9,338.8 L182.9,348.7 Q182.9,349.9 181.7,349.9 L160,349.9 Q158.8,349.9 158.8,348.7 L158.8,338.8 Q158.8,337.6 160,337.6 Z M158.8,340.9 L162.3,342.4 L158.8,343.9 M182.9,340.9 L179.4,342.4 L182.9,343.9" fill="none" stroke="#000000" stroke-width="1.75" stroke-linejoin="round"/>
<line x1="162.3" y1="342.4" x2="179.4" y2="342.4" stroke="#000000" stroke-width="1.75"/>
<path d="M89.1,303.25v4.7" stroke="#ff0000" stroke-width="2.0" fill="none"/><path d="M86.75,305.6h4.7" stroke="#ff0000" stroke-width="1.9" fill="none"/>
<path d="M170.85,290.45v4.7M170.85,292.15v4.7M170.85,293.95v4.7M170.85,298.25v4.7M170.85,299.95v4.7M170.85,301.75v4.7M170.85,303.45v4.7M170.85,307.35v4.7M170.85,309.15v4.7M170.85,310.85v4.7M170.85,313.45v4.7M170.85,315.65v4.7" stroke="#ff0000" stroke-width="2.0" fill="none"/><path d="M168.5,292.8h4.7M168.5,294.5h4.7M168.5,296.3h4.7M168.5,300.6h4.7M168.5,302.3h4.7M168.5,304.1h4.7M168.5,305.8h4.7M168.5,309.7h4.7M168.5,311.5h4.7M168.5,313.2h4.7M168.5,315.8h4.7M168.5,318h4.7" stroke="#ff0000" stroke-width="1.9" fill="none"/>
<text transform="translate(42.7,375.6) scale(0.99,1.07)" text-anchor="end" class="t">0</text>
<text transform="translate(42.7,349.77) scale(0.99,1.07)" text-anchor="end" class="t">10</text>
<text transform="translate(42.7,323.93) scale(0.99,1.07)" text-anchor="end" class="t">20</text>
<text transform="translate(42.7,298.1) scale(0.99,1.07)" text-anchor="end" class="t">30</text>
<text transform="translate(88.8,390.5) scale(0.99,1.07)" text-anchor="middle" class="t">Mucosa</text>
<text transform="translate(170.6,390.5) scale(0.99,1.07)" text-anchor="middle" class="t">Tumor</text>
<text transform="translate(20,330.95) rotate(-90)" text-anchor="middle" font-family="Liberation Sans, sans-serif" font-weight="bold" font-size="16.4" fill="#000"><tspan font-family="Liberation Serif, serif" font-style="italic" font-weight="normal" font-size="21">α</tspan><tspan>'</tspan><tspan dx="2.5"> (cm</tspan><tspan dy="-9" font-size="11.4">-1</tspan><tspan dy="9">)</tspan></text>
<text transform="translate(111.35,292.3) scale(0.89,1)" class="s">**</text>
</g>
<g>
<line x1="316" y1="369.7" x2="454.3" y2="369.7" stroke="#ebebeb" stroke-width="1.2"/>
<line x1="316" y1="330.95" x2="454.3" y2="330.95" stroke="#ebebeb" stroke-width="1.2"/>
<line x1="316" y1="292.2" x2="454.3" y2="292.2" stroke="#ebebeb" stroke-width="1.2"/>
<line x1="350.57" y1="292.2" x2="350.57" y2="369.7" stroke="#f0f0f0" stroke-width="1"/>
<line x1="419.73" y1="292.2" x2="419.73" y2="369.7" stroke="#f0f0f0" stroke-width="1"/>
<rect x="316" y="292.2" width="138.3" height="77.5" fill="none" stroke="#a4a4a4" stroke-width="1.3"/>
<line x1="316" y1="369.7" x2="317.6" y2="369.7" stroke="#555" stroke-width="1.2"/>
<line x1="454.3" y1="369.7" x2="452.7" y2="369.7" stroke="#555" stroke-width="1.2"/>
<line x1="316" y1="330.95" x2="317.6" y2="330.95" stroke="#555" stroke-width="1.2"/>
<line x1="454.3" y1="330.95" x2="452.7" y2="330.95" stroke="#555" stroke-width="1.2"/>
<line x1="316" y1="292.2" x2="317.6" y2="292.2" stroke="#555" stroke-width="1.2"/>
<line x1="454.3" y1="292.2" x2="452.7" y2="292.2" stroke="#555" stroke-width="1.2"/>
<line x1="350.57" y1="369.7" x2="350.57" y2="368.1" stroke="#555" stroke-width="1.2"/>
<line x1="350.57" y1="292.2" x2="350.57" y2="293.8" stroke="#555" stroke-width="1.2"/>
<line x1="419.73" y1="369.7" x2="419.73" y2="368.1" stroke="#555" stroke-width="1.2"/>
<line x1="419.73" y1="292.2" x2="419.73" y2="293.8" stroke="#555" stroke-width="1.2"/>
<line x1="350.9" y1="323.7" x2="350.9" y2="295.5" stroke="#00ff00" stroke-width="1.75" stroke-dasharray="5 6.6"/>
<line x1="350.9" y1="369.6" x2="350.9" y2="364.2" stroke="#00ff00" stroke-width="1.75" stroke-dasharray="5 6.6"/>
<line x1="345.75" y1="295.5" x2="356.05" y2="295.5" stroke="#00ff00" stroke-width="1.75"/>
<line x1="345.75" y1="369.6" x2="356.05" y2="369.6" stroke="#00ff00" stroke-width="1.75"/>
<path d="M341.8,323.7 L360,323.7 Q361.2,323.7 361.2,324.9 L361.2,348.3 L359,351.5 L361.2,354.7 L361.2,363 Q361.2,364.2 360,364.2 L341.8,364.2 Q340.6,364.2 340.6,363 L340.6,354.7 L342.8,351.5 L340.6,348.3 L340.6,324.9 Q340.6,323.7 341.8,323.7 Z" fill="none" stroke="#00ff00" stroke-width="1.75" stroke-linejoin="round"/>
<line x1="342.8" y1="351.5" x2="359" y2="351.5" stroke="#00ff00" stroke-width="1.75"/>
<line x1="420.15" y1="321.4" x2="420.15" y2="297" stroke="#000000" stroke-width="1.75" stroke-dasharray="5 6.6"/>
<line x1="420.15" y1="369.6" x2="420.15" y2="360.7" stroke="#000000" stroke-width="1.75" stroke-dasharray="5 6.6"/>
<line x1="415.12" y1="297" x2="425.17" y2="297" stroke="#000000" stroke-width="1.75"/>
<line x1="415.12" y1="369.6" x2="425.17" y2="369.6" stroke="#000000" stroke-width="1.75"/>
<path d="M411.3,321.4 L429,321.4 Q430.2,321.4 430.2,322.6 L430.2,339.7 L427.9,344.1 L430.2,348.5 L430.2,359.5 Q430.2,360.7 429,360.7 L411.3,360.7 Q410.1,360.7 410.1,359.5 L410.1,348.5 L412.4,344.1 L410.1,339.7 L410.1,322.6 Q410.1,321.4 411.3,321.4 Z" fill="none" stroke="#000000" stroke-width="1.75" stroke-linejoin="round"/>
<line x1="412.4" y1="344.1" x2="427.9" y2="344.1" stroke="#000000" stroke-width="1.75"/>


<text transform="translate(310.8,375.6) scale(0.99,1.07)" text-anchor="end" class="t">0</text>
<text transform="translate(310.8,336.85) scale(0.99,1.07)" text-anchor="end" class="t">50</text>
<text transform="translate(310.8,298.1) scale(0.99,1.07)" text-anchor="end" class="t">100</text>
<text transform="translate(350.57,390.5) scale(0.99,1.07)" text-anchor="middle" class="t">Mucosa</text>
<text transform="translate(419.73,390.5) scale(0.99,1.07)" text-anchor="middle" class="t">Tumor</text>
<text transform="translate(273,330.95) rotate(-90)" text-anchor="middle" font-family="Liberation Sans, sans-serif" font-weight="bold" font-size="16.4" fill="#000"><tspan>f</tspan><tspan dy="7.8" font-size="12.6">ray</tspan><tspan dy="-7.8"> (%)</tspan></text>
</g>
<g>
<line x1="544.7" y1="369.7" x2="697.5" y2="369.7" stroke="#ebebeb" stroke-width="1.2"/>
<line x1="544.7" y1="331.1" x2="697.5" y2="331.1" stroke="#ebebeb" stroke-width="1.2"/>
<line x1="544.7" y1="292.5" x2="697.5" y2="292.5" stroke="#ebebeb" stroke-width="1.2"/>
<line x1="582.9" y1="292.5" x2="582.9" y2="369.7" stroke="#f0f0f0" stroke-width="1"/>
<line x1="659.3" y1="292.5" x2="659.3" y2="369.7" stroke="#f0f0f0" stroke-width="1"/>
<rect x="544.7" y="292.5" width="152.8" height="77.2" fill="none" stroke="#a4a4a4" stroke-width="1.3"/>
<line x1="544.7" y1="369.7" x2="546.3" y2="369.7" stroke="#555" stroke-width="1.2"/>
<line x1="697.5" y1="369.7" x2="695.9" y2="369.7" stroke="#555" stroke-width="1.2"/>
<line x1="544.7" y1="331.1" x2="546.3" y2="331.1" stroke="#555" stroke-width="1.2"/>
<line x1="697.5" y1="331.1" x2="695.9" y2="331.1" stroke="#555" stroke-width="1.2"/>
<line x1="544.7" y1="292.5" x2="546.3" y2="292.5" stroke="#555" stroke-width="1.2"/>
<line x1="697.5" y1="292.5" x2="695.9" y2="292.5" stroke="#555" stroke-width="1.2"/>
<line x1="582.9" y1="369.7" x2="582.9" y2="368.1" stroke="#555" stroke-width="1.2"/>
<line x1="582.9" y1="292.5" x2="582.9" y2="294.1" stroke="#555" stroke-width="1.2"/>
<line x1="659.3" y1="369.7" x2="659.3" y2="368.1" stroke="#555" stroke-width="1.2"/>
<line x1="659.3" y1="292.5" x2="659.3" y2="294.1" stroke="#555" stroke-width="1.2"/>
<line x1="582.75" y1="345.7" x2="582.75" y2="319.7" stroke="#00ff00" stroke-width="1.75" stroke-dasharray="5 6.6"/>
<line x1="582.75" y1="369.6" x2="582.75" y2="362.1" stroke="#00ff00" stroke-width="1.75" stroke-dasharray="5 6.6"/>
<line x1="577.12" y1="319.7" x2="588.38" y2="319.7" stroke="#00ff00" stroke-width="1.75"/>
<line x1="577.12" y1="369.6" x2="588.38" y2="369.6" stroke="#00ff00" stroke-width="1.75"/>
<path d="M572.7,345.7 L592.8,345.7 Q594,345.7 594,346.9 L594,350.2 L592.7,353.2 L594,356.2 L594,360.9 Q594,362.1 592.8,362.1 L572.7,362.1 Q571.5,362.1 571.5,360.9 L571.5,356.2 L572.8,353.2 L571.5,350.2 L571.5,346.9 Q571.5,345.7 572.7,345.7 Z" fill="none" stroke="#00ff00" stroke-width="1.75" stroke-linejoin="round"/>
<line x1="572.8" y1="353.2" x2="592.7" y2="353.2" stroke="#00ff00" stroke-width="1.75"/>
<line x1="659.85" y1="328.5" x2="659.85" y2="302.6" stroke="#000000" stroke-width="1.75" stroke-dasharray="5 6.6"/>
<line x1="659.85" y1="369.6" x2="659.85" y2="350.6" stroke="#000000" stroke-width="1.75" stroke-dasharray="5 6.6"/>
<line x1="654.18" y1="302.6" x2="665.52" y2="302.6" stroke="#000000" stroke-width="1.75"/>
<line x1="654.18" y1="369.6" x2="665.52" y2="369.6" stroke="#000000" stroke-width="1.75"/>
<path d="M649.7,328.5 L670,328.5 Q671.2,328.5 671.2,329.7 L671.2,336.1 L669.2,338.9 L671.2,341.7 L671.2,349.4 Q671.2,350.6 670,350.6 L649.7,350.6 Q648.5,350.6 648.5,349.4 L648.5,341.7 L650.5,338.9 L648.5,336.1 L648.5,329.7 Q648.5,328.5 649.7,328.5 Z" fill="none" stroke="#000000" stroke-width="1.75" stroke-linejoin="round"/>
<line x1="650.5" y1="338.9" x2="669.2" y2="338.9" stroke="#000000" stroke-width="1.75"/>


<text transform="translate(539.5,375.6) scale(0.99,1.07)" text-anchor="end" class="t">0</text>
<text transform="translate(539.5,337) scale(0.99,1.07)" text-anchor="end" class="t">1</text>
<text transform="translate(539.5,298.4) scale(0.99,1.07)" text-anchor="end" class="t">2</text>
<text transform="translate(582.9,390.5) scale(0.99,1.07)" text-anchor="middle" class="t">Mucosa</text>
<text transform="translate(659.3,390.5) scale(0.99,1.07)" text-anchor="middle" class="t">Tumor</text>
<text transform="translate(517.8,331.1) rotate(-90)" text-anchor="middle" font-family="Liberation Sans, sans-serif" font-weight="bold" font-size="16.4" fill="#000"><tspan>b</tspan><tspan dy="7.8" font-size="12.6">Mie</tspan></text>
<text transform="translate(604,292.3) scale(0.89,1)" class="s">**</text>
</g>
</svg></body></html>
